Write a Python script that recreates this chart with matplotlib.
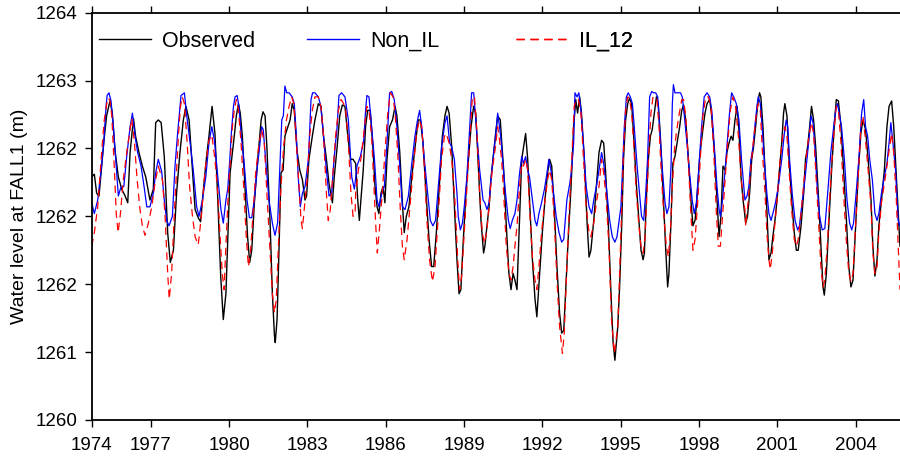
import matplotlib
matplotlib.use("Agg")
import matplotlib.pyplot as plt
from matplotlib.lines import Line2D

plt.rcParams['font.family'] = ['Liberation Sans', 'DejaVu Sans']

# Observed water level at FALL1 (decimal year, m)
obs_year = [
    1974.74, 1974.84, 1974.93, 1975.02, 1975.12, 1975.21, 1975.31, 1975.44, 1975.53, 1975.63,
    1975.76, 1975.89, 1976.02, 1976.12, 1976.21, 1976.34, 1976.42, 1976.55, 1976.68, 1976.81,
    1976.97, 1977.10, 1977.19, 1977.29, 1977.40, 1977.52, 1977.65, 1977.75, 1977.87, 1977.99,
    1978.12, 1978.25, 1978.35, 1978.47, 1978.60, 1978.70, 1978.82, 1978.91, 1979.02, 1979.14,
    1979.23, 1979.35, 1979.46, 1979.57, 1979.68, 1979.78,
    1979.88, 1979.97, 1980.04, 1980.10, 1980.20, 1980.28, 1980.36, 1980.43, 1980.51, 1980.61,
    1980.71, 1980.79, 1980.87, 1980.97, 1981.10, 1981.23, 1981.30, 1981.38, 1981.45, 1981.57,
    1981.66, 1981.74, 1981.77, 1981.84, 1981.91, 1981.99, 1982.07, 1982.14, 1982.22, 1982.34,
    1982.42, 1982.50, 1982.60, 1982.71, 1982.81, 1982.91, 1982.97, 1983.06, 1983.19, 1983.29,
    1983.42, 1983.52, 1983.62, 1983.73, 1983.83, 1983.96, 1984.03, 1984.14, 1984.24, 1984.34,
    1984.44, 1984.54, 1984.65, 1984.75,
    1984.85, 1984.93, 1984.99, 1985.05, 1985.14, 1985.23, 1985.31, 1985.41, 1985.51, 1985.59,
    1985.67, 1985.74, 1985.82, 1985.90, 1985.97, 1986.05, 1986.15, 1986.26, 1986.36, 1986.43,
    1986.54, 1986.64, 1986.71, 1986.79, 1986.89, 1987.00, 1987.10, 1987.17, 1987.25, 1987.33,
    1987.43, 1987.53, 1987.66, 1987.76, 1987.84, 1987.94, 1988.07, 1988.17, 1988.27, 1988.35,
    1988.43, 1988.53, 1988.65, 1988.73, 1988.81, 1988.88, 1988.96, 1989.06, 1989.17, 1989.27,
    1989.37, 1989.45, 1989.55, 1989.65, 1989.75, 1989.80,
    1989.88, 1989.96, 1990.03, 1990.11, 1990.21, 1990.29, 1990.39, 1990.44, 1990.52, 1990.62,
    1990.72, 1990.80, 1990.88, 1990.95, 1991.03, 1991.11, 1991.21, 1991.28, 1991.36, 1991.44,
    1991.51, 1991.62, 1991.72, 1991.79, 1991.90, 1992.00, 1992.10, 1992.20, 1992.28, 1992.36,
    1992.46, 1992.56, 1992.66, 1992.74, 1992.82, 1992.89, 1992.99, 1993.10, 1993.20, 1993.28,
    1993.35, 1993.43, 1993.50, 1993.61, 1993.71, 1993.79, 1993.86, 1993.97, 1994.07, 1994.17,
    1994.27, 1994.35, 1994.42, 1994.53, 1994.63, 1994.71, 1994.78,
    1994.89, 1994.96, 1995.04, 1995.11, 1995.19, 1995.27, 1995.34, 1995.42, 1995.50, 1995.60,
    1995.70, 1995.78, 1995.86, 1995.91, 1995.98, 1996.06, 1996.14, 1996.21, 1996.29, 1996.37,
    1996.44, 1996.52, 1996.62, 1996.72, 1996.80, 1996.85, 1996.93, 1997.00, 1997.08, 1997.16,
    1997.26, 1997.34, 1997.41, 1997.49, 1997.59, 1997.69, 1997.77, 1997.85, 1997.92, 1998.03,
    1998.13, 1998.23, 1998.31, 1998.41, 1998.49, 1998.59, 1998.69, 1998.77, 1998.84, 1998.92,
    1999.00, 1999.07, 1999.15, 1999.23, 1999.30, 1999.38, 1999.46, 1999.53, 1999.61, 1999.69,
    1999.76,
    1999.79, 1999.86, 1999.94, 2000.02, 2000.09, 2000.17, 2000.25, 2000.32, 2000.37, 2000.45,
    2000.53, 2000.60, 2000.68, 2000.76, 2000.83, 2000.91, 2000.99, 2001.06, 2001.17, 2001.24,
    2001.29, 2001.37, 2001.45, 2001.55, 2001.65, 2001.73, 2001.80, 2001.91, 2002.01, 2002.08,
    2002.16, 2002.24, 2002.31, 2002.39, 2002.47, 2002.57, 2002.67, 2002.75, 2002.80, 2002.88,
    2002.98, 2003.08, 2003.18, 2003.26, 2003.34, 2003.44, 2003.54, 2003.64, 2003.74, 2003.82,
    2003.90, 2004.00, 2004.10, 2004.20, 2004.28, 2004.38, 2004.48, 2004.59, 2004.66, 2004.74,
    2004.82, 2004.89, 2004.99, 2005.10, 2005.20, 2005.28, 2005.38, 2005.46, 2005.56, 2005.63,
    2005.70,
]
obs_level = [
    1262.29, 1262.31, 1262.17, 1262.15, 1262.37, 1262.56, 1262.74, 1262.85, 1262.76, 1262.49,
    1262.29, 1262.20, 1262.15, 1262.10, 1262.47, 1262.72, 1262.59, 1262.47, 1262.37, 1262.29,
    1262.12, 1262.20, 1262.69, 1262.71, 1262.69, 1262.44, 1261.88, 1261.66, 1261.75, 1262.17,
    1262.47, 1262.71, 1262.81, 1262.71, 1262.34, 1262.05, 1261.99, 1261.96, 1262.20, 1262.44,
    1262.59, 1262.81, 1262.61, 1262.12, 1261.56, 1261.24,
    1261.43, 1261.93, 1262.32, 1262.42, 1262.59, 1262.74, 1262.83, 1262.76, 1262.59, 1262.22,
    1261.85, 1261.66, 1261.75, 1262.10, 1262.42, 1262.71, 1262.77, 1262.74, 1262.51, 1261.97,
    1261.43, 1261.12, 1261.07, 1261.24, 1261.73, 1262.32, 1262.34, 1262.59, 1262.64, 1262.71,
    1262.83, 1262.78, 1262.49, 1262.34, 1262.27, 1262.12, 1262.15, 1262.42, 1262.59, 1262.71,
    1262.83, 1262.81, 1262.59, 1262.42, 1262.24, 1262.10, 1262.29, 1262.51, 1262.74, 1262.82,
    1262.81, 1262.61, 1262.42, 1262.42,
    1262.39, 1262.12, 1261.97, 1262.12, 1262.34, 1262.66, 1262.78, 1262.78, 1262.51, 1262.22,
    1262.07, 1262.02, 1262.17, 1262.22, 1262.10, 1262.42, 1262.66, 1262.71, 1262.81, 1262.74,
    1262.47, 1262.10, 1261.88, 1262.00, 1262.07, 1262.29, 1262.47, 1262.59, 1262.71, 1262.71,
    1262.54, 1262.22, 1261.83, 1261.63, 1261.63, 1261.88, 1262.27, 1262.59, 1262.74, 1262.81,
    1262.76, 1262.51, 1262.00, 1261.68, 1261.43, 1261.46, 1261.78, 1262.12, 1262.42, 1262.66,
    1262.81, 1262.76, 1262.37, 1261.97, 1261.73, 1261.78,
    1261.93, 1262.07, 1262.27, 1262.42, 1262.61, 1262.74, 1262.71, 1262.56, 1262.34, 1261.93,
    1261.58, 1261.46, 1261.58, 1261.53, 1261.46, 1261.88, 1262.42, 1262.51, 1262.61, 1262.42,
    1262.12, 1261.68, 1261.39, 1261.26, 1261.58, 1261.88, 1262.12, 1262.32, 1262.42, 1262.37,
    1262.05, 1261.63, 1261.29, 1261.14, 1261.16, 1261.43, 1261.83, 1262.22, 1262.66, 1262.86,
    1262.76, 1262.88, 1262.76, 1262.42, 1261.97, 1261.70, 1261.75, 1261.97, 1262.22, 1262.47,
    1262.56, 1262.54, 1262.34, 1261.93, 1261.43, 1261.07, 1260.94,
    1261.19, 1261.48, 1261.93, 1262.42, 1262.71, 1262.83, 1262.87, 1262.83, 1262.59, 1262.24,
    1261.97, 1261.75, 1261.68, 1261.73, 1262.12, 1262.42, 1262.59, 1262.64, 1262.76, 1262.88,
    1262.83, 1262.59, 1262.20, 1261.78, 1261.48, 1261.58, 1261.97, 1262.39, 1262.44, 1262.54,
    1262.66, 1262.78, 1262.82, 1262.71, 1262.44, 1262.12, 1261.93, 1261.97, 1262.12, 1262.44,
    1262.61, 1262.76, 1262.83, 1262.86, 1262.74, 1262.47, 1262.12, 1261.85, 1262.00, 1262.37,
    1262.34, 1262.47, 1262.54, 1262.59, 1262.56, 1262.71, 1262.81, 1262.64, 1262.29, 1262.12,
    1262.00,
    1261.95, 1262.00, 1262.17, 1262.42, 1262.51, 1262.66, 1262.83, 1262.91, 1262.88, 1262.66,
    1262.34, 1262.05, 1261.68, 1261.73, 1261.85, 1261.97, 1262.12, 1262.29, 1262.54, 1262.76,
    1262.83, 1262.74, 1262.42, 1262.12, 1261.88, 1261.75, 1261.75, 1261.93, 1262.17, 1262.42,
    1262.51, 1262.66, 1262.81, 1262.71, 1262.51, 1262.17, 1261.78, 1261.48, 1261.42, 1261.58,
    1261.97, 1262.34, 1262.66, 1262.86, 1262.85, 1262.66, 1262.34, 1262.00, 1261.63, 1261.48,
    1261.53, 1261.93, 1262.32, 1262.61, 1262.71, 1262.64, 1262.42, 1262.12, 1261.78, 1261.56,
    1261.68, 1261.93, 1262.12, 1262.34, 1262.66, 1262.81, 1262.85, 1262.66, 1262.29, 1262.02,
    1261.78,
]

# Non_IL simulation
nonil_year = [
    1974.74, 1974.84, 1974.97, 1975.10, 1975.20, 1975.29, 1975.33, 1975.40, 1975.48, 1975.57,
    1975.66, 1975.76, 1975.85, 1975.97, 1976.08, 1976.21, 1976.30, 1976.40, 1976.50, 1976.63,
    1976.76, 1976.85, 1976.97, 1977.10, 1977.19, 1977.29, 1977.42, 1977.52, 1977.61, 1977.70,
    1977.83, 1977.93, 1978.03, 1978.16, 1978.29, 1978.38, 1978.51, 1978.63, 1978.76, 1978.85,
    1978.98, 1979.11, 1979.23, 1979.34, 1979.44, 1979.57, 1979.69, 1979.78,
    1979.88, 1979.95, 1980.03, 1980.08, 1980.17, 1980.23, 1980.31, 1980.38, 1980.46, 1980.59,
    1980.69, 1980.78, 1980.87, 1980.97, 1981.07, 1981.17, 1981.25, 1981.31, 1981.40, 1981.53,
    1981.66, 1981.76, 1981.86, 1981.96, 1982.02, 1982.08, 1982.14, 1982.21, 1982.30, 1982.42,
    1982.50, 1982.58, 1982.65, 1982.73, 1982.81, 1982.91, 1983.04, 1983.14, 1983.20, 1983.29,
    1983.42, 1983.52, 1983.62, 1983.73, 1983.83, 1983.93, 1984.03, 1984.14, 1984.21, 1984.31,
    1984.44, 1984.57, 1984.70, 1984.80,
    1984.90, 1985.03, 1985.16, 1985.23, 1985.28, 1985.36, 1985.46, 1985.57, 1985.67, 1985.74,
    1985.85, 1985.95, 1986.05, 1986.15, 1986.23, 1986.33, 1986.43, 1986.54, 1986.64, 1986.74,
    1986.87, 1987.00, 1987.12, 1987.22, 1987.30, 1987.38, 1987.48, 1987.61, 1987.71, 1987.81,
    1987.91, 1988.04, 1988.14, 1988.27, 1988.35, 1988.45, 1988.53, 1988.63, 1988.73, 1988.78,
    1988.86, 1988.94, 1989.01, 1989.11, 1989.22, 1989.29, 1989.37, 1989.47, 1989.60, 1989.73,
    1989.80,
    1989.88, 1989.96, 1990.03, 1990.11, 1990.21, 1990.29, 1990.36, 1990.42, 1990.49, 1990.59,
    1990.70, 1990.77, 1990.85, 1990.95, 1991.03, 1991.13, 1991.21, 1991.28, 1991.36, 1991.44,
    1991.51, 1991.62, 1991.72, 1991.79, 1991.87, 1991.97, 1992.08, 1992.18, 1992.25, 1992.33,
    1992.43, 1992.53, 1992.64, 1992.74, 1992.82, 1992.87, 1992.94, 1993.05, 1993.12, 1993.20,
    1993.25, 1993.33, 1993.40, 1993.48, 1993.58, 1993.68, 1993.79, 1993.89, 1993.97, 1994.07,
    1994.17, 1994.27, 1994.35, 1994.45, 1994.58, 1994.68, 1994.78,
    1994.86, 1994.94, 1995.01, 1995.06, 1995.14, 1995.22, 1995.29, 1995.37, 1995.45, 1995.52,
    1995.63, 1995.73, 1995.80, 1995.88, 1995.96, 1996.03, 1996.11, 1996.19, 1996.26, 1996.34,
    1996.42, 1996.49, 1996.60, 1996.70, 1996.77, 1996.85, 1996.93, 1996.98, 1997.02, 1997.08,
    1997.18, 1997.29, 1997.36, 1997.44, 1997.54, 1997.64, 1997.74, 1997.82, 1997.90, 1998.00,
    1998.10, 1998.20, 1998.31, 1998.41, 1998.49, 1998.59, 1998.69, 1998.77, 1998.82, 1998.89,
    1999.00, 1999.10, 1999.17, 1999.25, 1999.33, 1999.43, 1999.53, 1999.63, 1999.76,
    1999.84, 1999.91, 1999.99, 2000.07, 2000.14, 2000.22, 2000.27, 2000.35, 2000.42, 2000.50,
    2000.60, 2000.68, 2000.76, 2000.83, 2000.93, 2001.04, 2001.17, 2001.27, 2001.34, 2001.40,
    2001.47, 2001.57, 2001.68, 2001.78, 2001.85, 2001.93, 2002.03, 2002.11, 2002.21, 2002.29,
    2002.37, 2002.44, 2002.52, 2002.62, 2002.72, 2002.82, 2002.93, 2003.05, 2003.16, 2003.23,
    2003.31, 2003.39, 2003.46, 2003.57, 2003.67, 2003.77, 2003.85, 2003.92, 2004.02, 2004.13,
    2004.23, 2004.31, 2004.38, 2004.46, 2004.54, 2004.64, 2004.74, 2004.82, 2004.89, 2004.99,
    2005.10, 2005.20, 2005.28, 2005.35, 2005.43, 2005.53, 2005.63, 2005.70,
]
nonil_level = [
    1262.10, 1262.02, 1262.12, 1262.34, 1262.54, 1262.81, 1262.89, 1262.91, 1262.85, 1262.66,
    1262.42, 1262.15, 1262.21, 1262.22, 1262.44, 1262.66, 1262.76, 1262.59, 1262.47, 1262.37,
    1262.20, 1262.07, 1262.07, 1262.17, 1262.32, 1262.42, 1262.33, 1262.12, 1261.97, 1261.93,
    1262.00, 1262.37, 1262.61, 1262.89, 1262.91, 1262.74, 1262.54, 1262.34, 1262.07, 1262.00,
    1262.12, 1262.29, 1262.54, 1262.66, 1262.56, 1262.29, 1262.05, 1261.95,
    1262.12, 1262.20, 1262.42, 1262.59, 1262.81, 1262.88, 1262.89, 1262.81, 1262.61, 1262.37,
    1262.12, 1261.99, 1261.99, 1262.12, 1262.34, 1262.51, 1262.66, 1262.64, 1262.42, 1262.12,
    1261.95, 1261.86, 1261.95, 1262.42, 1262.71, 1262.74, 1262.96, 1262.91, 1262.91, 1262.88,
    1262.83, 1262.59, 1262.29, 1262.07, 1262.17, 1262.22, 1262.42, 1262.86, 1262.91, 1262.91,
    1262.88, 1262.81, 1262.59, 1262.34, 1262.15, 1262.17, 1262.44, 1262.66, 1262.89, 1262.91,
    1262.88, 1262.71, 1262.29, 1262.20,
    1262.37, 1262.44, 1262.56, 1262.78, 1262.89, 1262.88, 1262.66, 1262.42, 1262.12, 1262.07,
    1262.17, 1262.22, 1262.54, 1262.91, 1262.92, 1262.86, 1262.66, 1262.37, 1262.07, 1262.05,
    1262.15, 1262.39, 1262.59, 1262.71, 1262.78, 1262.66, 1262.42, 1262.17, 1261.97, 1261.93,
    1261.97, 1262.27, 1262.51, 1262.69, 1262.74, 1262.54, 1262.51, 1262.42, 1262.17, 1262.00,
    1261.90, 1261.95, 1262.07, 1262.29, 1262.66, 1262.91, 1262.91, 1262.66, 1262.34, 1262.12,
    1262.10,
    1262.05, 1262.10, 1262.27, 1262.42, 1262.59, 1262.76, 1262.66, 1262.56, 1262.39, 1262.17,
    1261.97, 1261.91, 1261.97, 1262.02, 1262.12, 1262.32, 1262.44, 1262.39, 1262.44, 1262.34,
    1262.29, 1262.12, 1261.97, 1261.93, 1262.02, 1262.10, 1262.20, 1262.32, 1262.42, 1262.34,
    1262.17, 1262.00, 1261.88, 1261.81, 1261.83, 1261.95, 1262.12, 1262.24, 1262.34, 1262.54,
    1262.91, 1262.88, 1262.91, 1262.78, 1262.51, 1262.22, 1262.07, 1262.02, 1262.12, 1262.22,
    1262.34, 1262.47, 1262.39, 1262.22, 1261.97, 1261.85, 1261.81,
    1261.85, 1261.97, 1262.07, 1262.29, 1262.66, 1262.88, 1262.91, 1262.88, 1262.83, 1262.66,
    1262.37, 1262.15, 1262.00, 1261.97, 1262.17, 1262.42, 1262.88, 1262.92, 1262.91, 1262.91,
    1262.88, 1262.66, 1262.34, 1262.10, 1262.02, 1262.07, 1262.37, 1262.83, 1262.97, 1262.91,
    1262.91, 1262.91, 1262.88, 1262.74, 1262.54, 1262.32, 1262.12, 1262.02, 1262.10, 1262.37,
    1262.66, 1262.88, 1262.91, 1262.88, 1262.78, 1262.51, 1262.22, 1262.05, 1262.00, 1262.10,
    1262.34, 1262.59, 1262.76, 1262.91, 1262.88, 1262.83, 1262.71, 1262.42, 1262.12,
    1262.15, 1262.22, 1262.42, 1262.51, 1262.66, 1262.81, 1262.88, 1262.83, 1262.66, 1262.42,
    1262.17, 1262.02, 1261.97, 1262.02, 1262.10, 1262.22, 1262.42, 1262.61, 1262.71, 1262.66,
    1262.42, 1262.17, 1261.97, 1261.90, 1261.93, 1262.07, 1262.22, 1262.37, 1262.56, 1262.74,
    1262.69, 1262.51, 1262.24, 1262.00, 1261.90, 1261.91, 1262.17, 1262.47, 1262.66, 1262.78,
    1262.83, 1262.74, 1262.66, 1262.42, 1262.12, 1261.95, 1261.90, 1261.95, 1262.17, 1262.44,
    1262.76, 1262.86, 1262.66, 1262.59, 1262.42, 1262.27, 1262.02, 1261.97, 1262.02, 1262.17,
    1262.29, 1262.39, 1262.54, 1262.69, 1262.54, 1262.34, 1261.97, 1261.93,
]

# IL_12 simulation
il12_year = [
    1974.74, 1974.84, 1974.97, 1975.10, 1975.22, 1975.35, 1975.43, 1975.51, 1975.61, 1975.68,
    1975.75, 1975.84, 1975.95, 1976.08, 1976.21, 1976.27, 1976.37, 1976.48, 1976.59, 1976.68,
    1976.78, 1976.91, 1977.04, 1977.16, 1977.29, 1977.45, 1977.55, 1977.65, 1977.71, 1977.80,
    1977.93, 1978.06, 1978.14, 1978.21, 1978.29, 1978.39, 1978.49, 1978.60, 1978.70, 1978.82,
    1978.95, 1979.08, 1979.23, 1979.34, 1979.46, 1979.57, 1979.65, 1979.74, 1979.81,
    1979.88, 1979.97, 1980.05, 1980.13, 1980.20, 1980.28, 1980.36, 1980.46, 1980.56, 1980.66,
    1980.74, 1980.82, 1980.92, 1981.02, 1981.15, 1981.25, 1981.35, 1981.45, 1981.56, 1981.66,
    1981.74, 1981.81, 1981.89, 1981.99, 1982.09, 1982.20, 1982.30, 1982.40, 1982.48, 1982.58,
    1982.68, 1982.76, 1982.81, 1982.88, 1982.99, 1983.09, 1983.19, 1983.29, 1983.42, 1983.52,
    1983.62, 1983.73, 1983.80, 1983.88, 1983.98, 1984.08, 1984.19, 1984.29, 1984.39, 1984.47,
    1984.57, 1984.67, 1984.75, 1984.83,
    1984.85, 1984.95, 1985.05, 1985.16, 1985.28, 1985.36, 1985.46, 1985.54, 1985.62, 1985.68,
    1985.77, 1985.87, 1985.97, 1986.08, 1986.18, 1986.28, 1986.36, 1986.46, 1986.56, 1986.64,
    1986.71, 1986.82, 1986.92, 1987.05, 1987.17, 1987.28, 1987.38, 1987.48, 1987.58, 1987.68,
    1987.79, 1987.89, 1988.02, 1988.14, 1988.25, 1988.32, 1988.43, 1988.53, 1988.65, 1988.76,
    1988.83, 1988.91, 1989.01, 1989.11, 1989.22, 1989.32, 1989.40, 1989.50, 1989.60, 1989.70,
    1989.78,
    1989.88, 1989.98, 1990.08, 1990.19, 1990.29, 1990.36, 1990.44, 1990.52, 1990.62, 1990.72,
    1990.80, 1990.88, 1990.95, 1991.03, 1991.13, 1991.21, 1991.28, 1991.36, 1991.44, 1991.51,
    1991.62, 1991.72, 1991.79, 1991.87, 1991.97, 1992.10, 1992.20, 1992.28, 1992.36, 1992.46,
    1992.56, 1992.66, 1992.77, 1992.84, 1992.94, 1993.05, 1993.15, 1993.22, 1993.30, 1993.38,
    1993.48, 1993.58, 1993.68, 1993.79, 1993.86, 1993.97, 1994.07, 1994.17, 1994.27, 1994.35,
    1994.45, 1994.55, 1994.65, 1994.76,
    1994.89, 1994.96, 1995.04, 1995.11, 1995.19, 1995.27, 1995.34, 1995.42, 1995.50, 1995.60,
    1995.70, 1995.78, 1995.86, 1995.93, 1996.01, 1996.09, 1996.16, 1996.24, 1996.31, 1996.39,
    1996.47, 1996.57, 1996.67, 1996.75, 1996.83, 1996.90, 1996.98, 1997.06, 1997.13, 1997.23,
    1997.34, 1997.41, 1997.49, 1997.59, 1997.69, 1997.77, 1997.85, 1997.95, 1998.05, 1998.15,
    1998.26, 1998.36, 1998.46, 1998.56, 1998.66, 1998.74, 1998.82, 1998.89, 1999.00, 1999.10,
    1999.20, 1999.30, 1999.40, 1999.51, 1999.61, 1999.71, 1999.76,
    1999.79, 1999.89, 1999.99, 2000.09, 2000.20, 2000.27, 2000.35, 2000.42, 2000.53, 2000.60,
    2000.68, 2000.73, 2000.81, 2000.91, 2001.01, 2001.11, 2001.22, 2001.29, 2001.37, 2001.45,
    2001.55, 2001.65, 2001.73, 2001.80, 2001.91, 2002.01, 2002.11, 2002.21, 2002.31, 2002.39,
    2002.47, 2002.57, 2002.67, 2002.75, 2002.82, 2002.93, 2003.05, 2003.16, 2003.26, 2003.34,
    2003.44, 2003.54, 2003.64, 2003.74, 2003.82, 2003.90, 2004.00, 2004.10, 2004.20, 2004.28,
    2004.38, 2004.48, 2004.59, 2004.66, 2004.74, 2004.82, 2004.89, 2004.99, 2005.10, 2005.20,
    2005.30, 2005.38, 2005.46, 2005.56, 2005.63, 2005.70,
]
il12_level = [
    1261.78, 1261.88, 1262.07, 1262.42, 1262.71, 1262.87, 1262.86, 1262.74, 1262.34, 1262.02,
    1261.88, 1262.02, 1262.27, 1262.47, 1262.64, 1262.72, 1262.56, 1262.27, 1262.05, 1261.93,
    1261.86, 1261.95, 1262.07, 1262.24, 1262.37, 1262.27, 1262.00, 1261.58, 1261.39, 1261.58,
    1262.12, 1262.59, 1262.81, 1262.88, 1262.83, 1262.56, 1262.22, 1262.00, 1261.85, 1261.79,
    1262.02, 1262.34, 1262.56, 1262.60, 1262.42, 1262.17, 1261.88, 1261.58, 1261.46,
    1261.78, 1262.17, 1262.42, 1262.66, 1262.78, 1262.86, 1262.78, 1262.54, 1262.22, 1261.85,
    1261.63, 1261.73, 1262.02, 1262.32, 1262.54, 1262.64, 1262.54, 1262.17, 1261.78, 1261.43,
    1261.29, 1261.39, 1261.78, 1262.22, 1262.51, 1262.71, 1262.81, 1262.88, 1262.83, 1262.54,
    1262.22, 1261.97, 1261.91, 1262.05, 1262.27, 1262.59, 1262.78, 1262.88, 1262.88, 1262.81,
    1262.59, 1262.17, 1261.97, 1262.05, 1262.32, 1262.59, 1262.78, 1262.86, 1262.83, 1262.78,
    1262.54, 1262.17, 1262.00, 1262.02,
    1262.17, 1262.34, 1262.42, 1262.61, 1262.81, 1262.78, 1262.59, 1262.27, 1261.93, 1261.73,
    1261.93, 1262.17, 1262.47, 1262.76, 1262.91, 1262.88, 1262.76, 1262.47, 1262.05, 1261.78,
    1261.68, 1261.83, 1262.05, 1262.34, 1262.59, 1262.71, 1262.66, 1262.37, 1261.97, 1261.68,
    1261.52, 1261.63, 1262.02, 1262.42, 1262.59, 1262.61, 1262.54, 1262.42, 1262.12, 1261.68,
    1261.46, 1261.56, 1261.88, 1262.20, 1262.54, 1262.88, 1262.88, 1262.61, 1262.17, 1261.88,
    1261.80,
    1261.90, 1262.12, 1262.34, 1262.49, 1262.66, 1262.56, 1262.42, 1262.17, 1261.78, 1261.58,
    1261.53, 1261.63, 1261.78, 1261.93, 1262.22, 1262.39, 1262.37, 1262.42, 1262.34, 1262.07,
    1261.70, 1261.53, 1261.46, 1261.63, 1261.88, 1262.12, 1262.27, 1262.34, 1262.27, 1261.97,
    1261.53, 1261.19, 1260.99, 1261.14, 1261.63, 1262.12, 1262.51, 1262.81, 1262.86, 1262.86,
    1262.76, 1262.42, 1262.07, 1261.88, 1261.85, 1261.95, 1262.10, 1262.22, 1262.42, 1262.32,
    1262.12, 1261.78, 1261.24, 1260.99,
    1261.19, 1261.58, 1262.05, 1262.49, 1262.78, 1262.88, 1262.87, 1262.76, 1262.54, 1262.17,
    1261.93, 1261.78, 1261.73, 1261.83, 1262.17, 1262.51, 1262.76, 1262.88, 1262.88, 1262.86,
    1262.66, 1262.27, 1261.97, 1261.78, 1261.70, 1261.88, 1262.22, 1262.49, 1262.61, 1262.74,
    1262.86, 1262.86, 1262.74, 1262.42, 1262.02, 1261.75, 1261.83, 1262.10, 1262.42, 1262.74,
    1262.88, 1262.88, 1262.81, 1262.51, 1262.05, 1261.78, 1261.78, 1261.97, 1262.27, 1262.54,
    1262.78, 1262.88, 1262.81, 1262.59, 1262.29, 1262.10, 1262.05,
    1261.93, 1262.12, 1262.37, 1262.56, 1262.76, 1262.83, 1262.78, 1262.51, 1262.17, 1261.88,
    1261.68, 1261.61, 1261.73, 1261.95, 1262.17, 1262.42, 1262.61, 1262.66, 1262.59, 1262.34,
    1262.05, 1261.83, 1261.78, 1261.83, 1262.02, 1262.24, 1262.44, 1262.59, 1262.69, 1262.61,
    1262.34, 1262.00, 1261.63, 1261.48, 1261.53, 1261.83, 1262.29, 1262.59, 1262.81, 1262.78,
    1262.54, 1262.17, 1261.83, 1261.58, 1261.52, 1261.58, 1261.93, 1262.29, 1262.66, 1262.74,
    1262.56, 1262.34, 1262.07, 1261.73, 1261.58, 1261.63, 1261.88, 1262.10, 1262.24, 1262.37,
    1262.51, 1262.61, 1262.47, 1262.12, 1261.78, 1261.46,
]

# axis setup: ticks every 0.5 m, labels rounded to whole metres like the original
y_ticks = [1260.5, 1261.0, 1261.5, 1262.0, 1262.5, 1263.0, 1263.5]
y_labels = ['1260', '1261', '1262', '1262', '1262', '1263', '1264']
x_start, x_end = 1974.74, 2005.70
x_ticks = [x_start, 1977, 1980, 1983, 1986, 1989, 1992, 1995, 1998, 2001, 2004]
x_labels = ['1974', '1977', '1980', '1983', '1986', '1989', '1992', '1995', '1998', '2001', '2004']

fig = plt.figure(figsize=(9, 4.58), dpi=100)
ax = fig.add_axes([0.1019, 0.083, 0.8981, 0.8893])

ax.plot(obs_year, obs_level, color='black', lw=1.0)
ax.plot(nonil_year, nonil_level, color='#0000ff', lw=0.9)
ax.plot(il12_year, il12_level, color='#ff0000', lw=0.9, dashes=(6, 4))

ax.set_xlim(x_start, x_end)
ax.set_ylim(1260.5, 1263.5)
ax.set_xticks(x_ticks)
ax.set_xticklabels(x_labels)
ax.set_yticks(y_ticks)
ax.set_yticklabels(y_labels)

ax.spines['right'].set_visible(False)
for s in ['left', 'top', 'bottom']:
    ax.spines[s].set_linewidth(1.3)
ax.tick_params(axis='both', direction='out', length=5, width=1.0, labelsize=13.5)
ax.tick_params(axis='x', top=True, pad=7)
ax.tick_params(axis='y', pad=5)

ax.set_ylabel('Water level at FALL1 (m)', fontsize=14)
ax.yaxis.set_label_coords(-0.079, 0.5)

# three separate legend entries, placed like the original
leg_font = {'family': 'Liberation Sans', 'size': 15.5}
entries = [
    (Line2D([], [], color='black', lw=1.0), 'Observed', 0.009),
    (Line2D([], [], color='#0000ff', lw=1.0), 'Non_IL', 0.2664),
    (Line2D([], [], color='#ff0000', lw=1.0, dashes=(6, 4)), 'IL_12', 0.5249),
]
for handle, label, xpos in entries:
    leg = ax.legend([handle], [label], loc='center left', bbox_to_anchor=(xpos, 0.930),
                    frameon=False, prop=leg_font, borderpad=0, borderaxespad=0,
                    handlelength=2.4, handletextpad=0.55)
    ax.add_artist(leg)

fig.savefig('out.png', dpi=100)
